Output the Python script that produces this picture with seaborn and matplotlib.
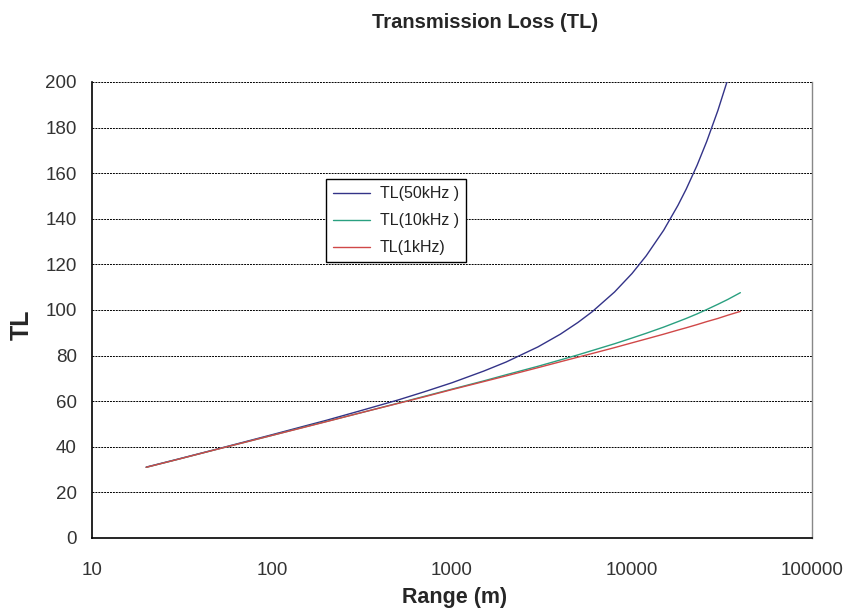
import matplotlib
matplotlib.use('Agg')
import matplotlib.pyplot as plt
from matplotlib.ticker import FixedLocator, NullLocator
import seaborn as sns
import pandas as pd

# values
range_m = [20, 30, 50, 70, 100, 150, 200, 300, 500, 700, 1000, 1500, 2000,
           3000, 4000, 5000, 6000, 8000, 10000, 12000, 15000, 18000, 20000,
           23000, 26000, 30000, 34000, 40000]
tl_50k = [31.1, 34.6, 39.1, 42.1, 45.3, 49.0, 51.6, 55.5, 60.5, 64.1, 68.1,
          73.2, 77.2, 83.8, 89.4, 94.5, 99.2, 107.9, 116.0, 123.8, 135.0,
          145.9, 153.0, 163.5, 173.9, 187.5, 201.0, 221.0]
tl_10k = [31.0, 34.5, 39.0, 41.9, 45.0, 48.6, 51.1, 54.6, 59.1, 62.1, 65.3,
          68.9, 71.6, 75.3, 78.1, 80.3, 82.2, 85.2, 87.7, 89.8, 92.5, 94.9,
          96.3, 98.3, 100.2, 102.5, 104.6, 107.6]
tl_1k = [31.0, 34.5, 39.0, 41.9, 45.0, 48.5, 51.0, 54.6, 59.0, 61.9, 65.1,
         68.6, 71.1, 74.7, 77.3, 79.3, 80.9, 83.5, 85.6, 87.3, 89.4, 91.2,
         92.2, 93.6, 94.9, 96.3, 97.7, 99.4]
series = ['TL(50kHz )', 'TL(10kHz )', 'TL(1kHz)']
colors = ['#333388', '#2aa080', '#d04848']

df = pd.DataFrame({'Range': range_m * 3,
                   'TL': tl_50k + tl_10k + tl_1k,
                   'Series': [series[0]] * len(range_m) + [series[1]] * len(range_m)
                   + [series[2]] * len(range_m)})

sns.set_style('white')
plt.rcParams['font.family'] = ['Liberation Sans', 'DejaVu Sans']

fig = plt.figure(figsize=(8.52, 6.13), dpi=100)
ax = fig.add_axes([92 / 852, 1 - 538 / 613, 720 / 852, 456 / 613])

sns.lineplot(data=df, x='Range', y='TL', hue='Series', palette=colors,
             linewidth=1.0, ax=ax, legend=True)

ax.set_xscale('log')
ax.set_xlim(10, 100000)
ax.set_ylim(0, 200)
ax.xaxis.set_major_locator(FixedLocator([10, 100, 1000, 10000, 100000]))
ax.xaxis.set_minor_locator(NullLocator())
ax.set_xticklabels(['10', '100', '1000', '10000', '100000'])
ax.set_yticks(range(0, 201, 20))

for y in range(20, 201, 20):
    ax.axhline(y, color='black', linestyle=(0, (2, 1)), linewidth=0.7, zorder=0)

for s in ['left', 'bottom']:
    ax.spines[s].set_color('black')
    ax.spines[s].set_linewidth(1.2)
ax.spines['right'].set_color('#888888')
ax.spines['right'].set_linewidth(1.0)
ax.spines['top'].set_visible(False)

ax.tick_params(axis='both', which='major', direction='out', length=5,
               width=1, color='black', labelsize=13.5, labelcolor='#333333')
ax.tick_params(axis='x', pad=12)
ax.tick_params(axis='y', pad=6)

ax.set_xlabel('')
ax.set_ylabel('')
fig.text(455 / 852, 1 - 598 / 613, 'Range (m)', fontsize=15.5, fontweight='bold',
         ha='center', va='center')
fig.text(22 / 852, 1 - 325 / 613, 'TL', fontsize=18, fontweight='bold',
         rotation=90, ha='center', va='center')
fig.text(485 / 852, 1 - 22 / 613, 'Transmission Loss (TL)', fontsize=14.5,
         fontweight='bold', ha='center', va='center')

leg = ax.legend(loc='upper left', bbox_to_anchor=(0.325, 0.787), fontsize=11.5,
                frameon=True, fancybox=False, borderpad=0.45, labelspacing=0.75,
                handlelength=2.3, handletextpad=0.6, borderaxespad=0)
leg.get_frame().set_edgecolor('black')
leg.get_frame().set_linewidth(1.0)
leg.get_frame().set_alpha(1)
for line in leg.get_lines():
    line.set_linewidth(1.0)
for t in leg.get_texts():
    t.set_color('#222222')

fig.savefig('out.png', dpi=100)
